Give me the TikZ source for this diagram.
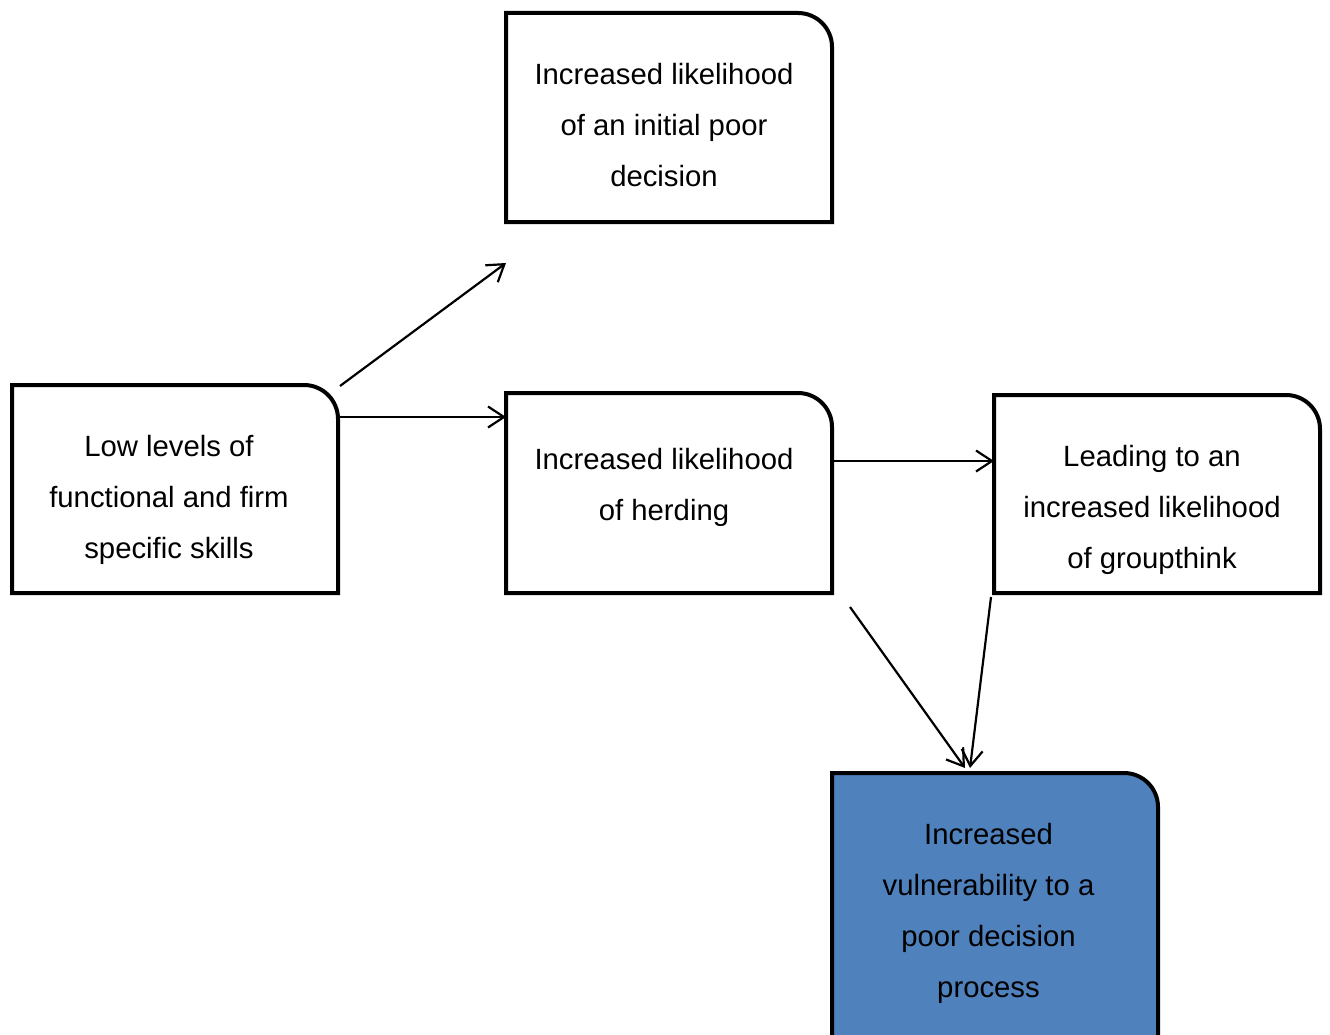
\documentclass[tikz,border=0pt]{standalone}
\usepackage{fontspec}
\setmainfont{Liberation Sans}
\usetikzlibrary{arrows.meta,calc}
\definecolor{boxblue}{HTML}{4F81BD}
% border of a box whose top right corner is rounded
\newcommand\cornerbox[2][]{%
  \draw[border,#1] (#2.south west) -- (#2.north west)
    -- ([xshift=-34pt]#2.north east) arc[start angle=90,end angle=0,radius=34pt]
    -- (#2.south east) -- cycle;}
\begin{document}
\begin{tikzpicture}[x=1pt,y=-1pt,
  frame/.style={inner sep=0pt, outer sep=0pt},
  txt/.style={align=center, inner sep=0pt, font=\fontsize{29.3}{51}\selectfont},
  border/.style={line width=4pt, line join=miter},
  arr/.style={line width=2.2pt, -{Straight Barb[length=16pt,width=21pt]}}]
\useasboundingbox (0,0) rectangle (1330,1035);
\fill[white] (0,0) rectangle (1330,1035);

% box frames
\node[frame, minimum width=326pt, minimum height=208pt] (L) at (175,489) {};
\node[frame, minimum width=326pt, minimum height=209pt] (A) at (669,117.5) {};
\node[frame, minimum width=326pt, minimum height=200pt] (H) at (669,493) {};
\node[frame, minimum width=326pt, minimum height=198pt] (G) at (1157,494) {};
\node[frame, minimum width=326pt, minimum height=264pt] (V) at (995,905) {};

\cornerbox{L}
\cornerbox{A}
\cornerbox{H}
\cornerbox{G}
\cornerbox[fill=boxblue]{V}

% labels
\node[txt] (Ltxt) at (169,497.3) {\strut Low levels of\\\strut functional and firm\\\strut specific skills};
\node[txt] (Atxt) at (664,125.3) {\strut Increased likelihood\\\strut of an initial poor\\\strut decision};
\node[txt] (Htxt) at (664,484.8) {\strut Increased likelihood\\\strut of herding};
\node[txt] (Gtxt) at (1152,507.3) {\strut Leading to an\\\strut increased likelihood\\\strut of groupthink};
\node[txt] (Vtxt) at (988.5,910.8) {\strut Increased\\\strut vulnerability to a\\\strut poor decision\\\strut process};

% connectors
\draw[arr] ([shift={(2pt,-1pt)}]L.north east) -- ($(A.south west)+(0,41)$);
\draw[arr] ([yshift=-32pt]L.north east) -- ([yshift=-24pt]H.north west);
\coordinate (hg) at ([yshift=-68pt]H.north east);
\draw[arr] (hg) -- (G.west |- hg);
\draw[arr] ([shift={(18pt,-14pt)}]H.south east) -- ([shift={(-30pt,5pt)}]V.north);
\draw[arr] ([shift={(-3pt,-4pt)}]G.south west) -- ([shift={(-25pt,5pt)}]V.north);
\end{tikzpicture}
\end{document}
